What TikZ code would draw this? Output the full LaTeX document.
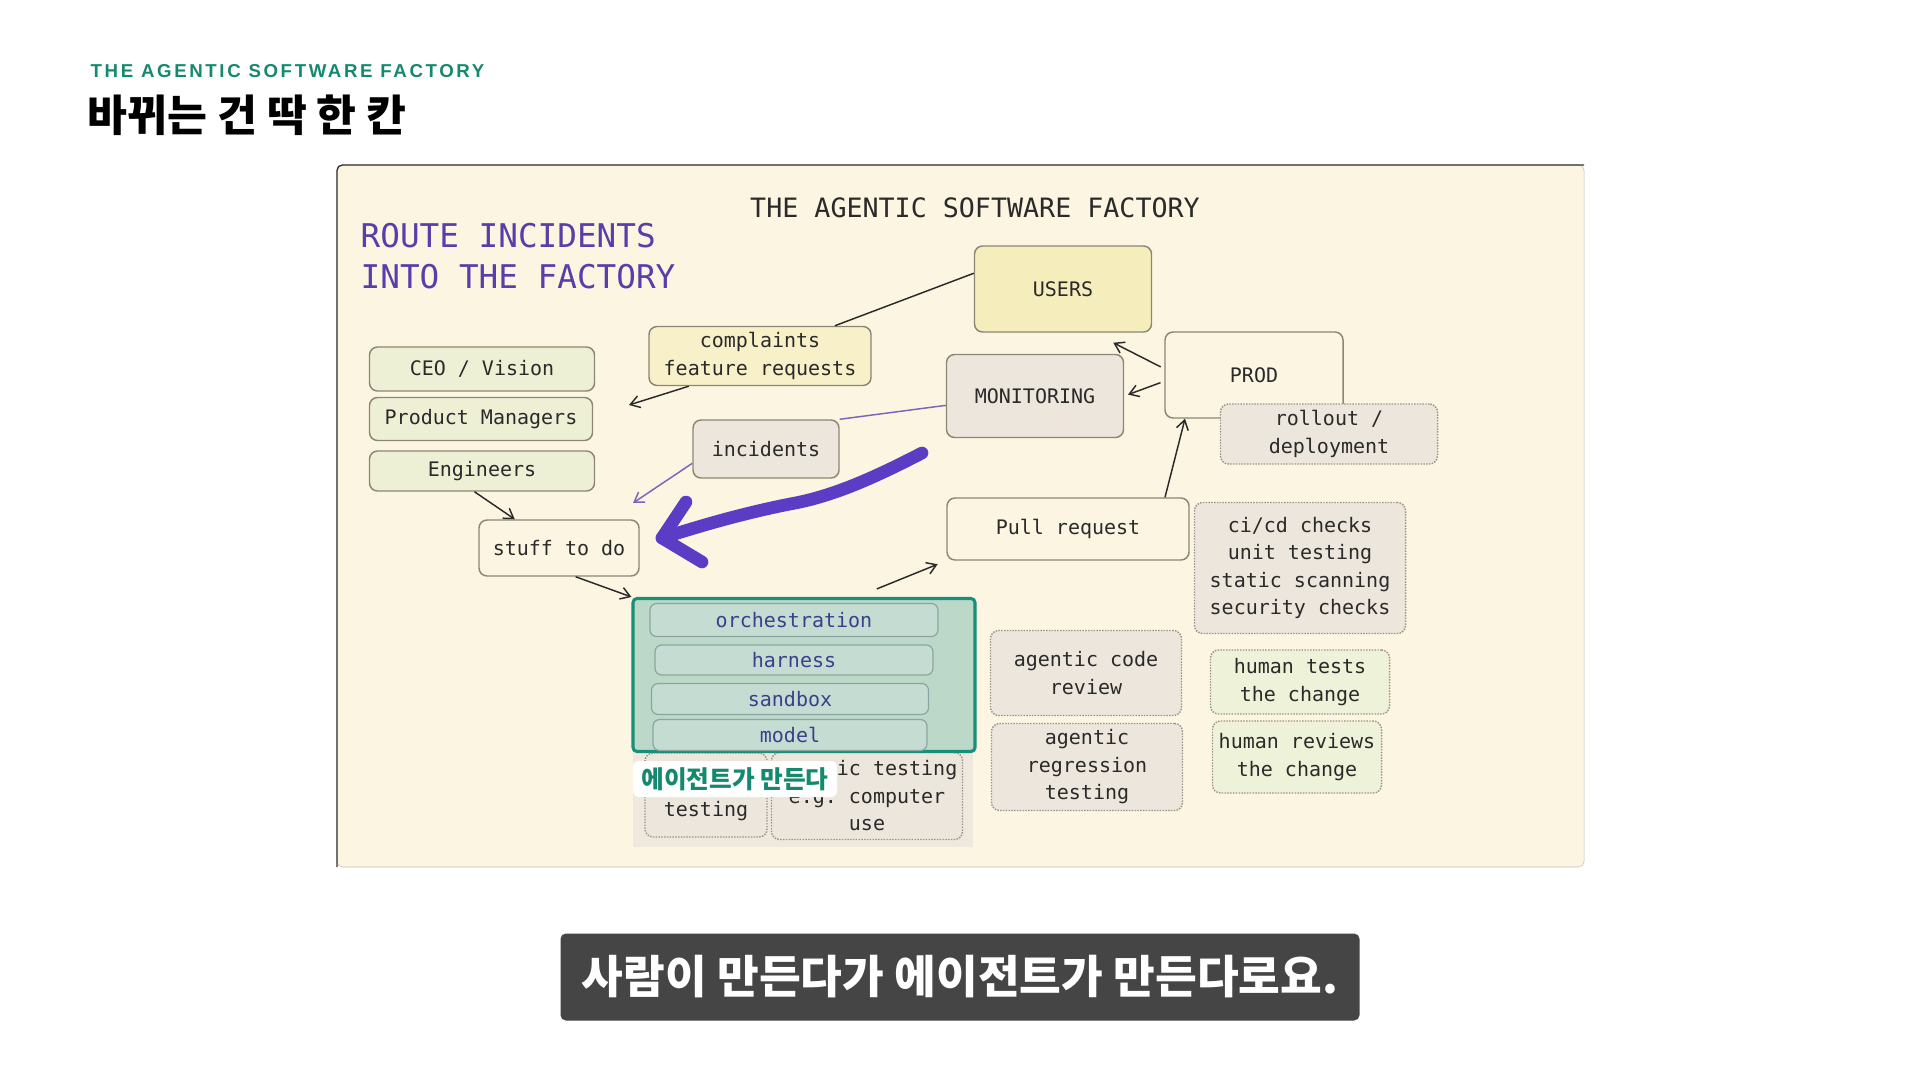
\documentclass[tikz,border=0pt]{standalone}
\usepackage{fontspec}
\setmainfont{Liberation Sans}
\setmonofont{DejaVu Sans Mono}
\newfontfamily\krfont{Noto Sans CJK KR}
\newfontfamily\spacedfont[LetterSpace=14]{Liberation Sans}
\usetikzlibrary{positioning, arrows.meta, calc}

\definecolor{paper}{HTML}{FBF5E1}
\definecolor{edge}{HTML}{8C8674}
\definecolor{ink}{HTML}{2A2A2A}
\definecolor{notegray}{HTML}{ECE6DC}
\definecolor{dotedge}{HTML}{9A9488}
\definecolor{useryellow}{HTML}{F6EDBD}
\definecolor{reqyellow}{HTML}{F8F0C8}
\definecolor{rolegreen}{HTML}{EEF0D6}
\definecolor{humangreen}{HTML}{EEF2D8}
\definecolor{agentfill}{HTML}{BCD8C8}
\definecolor{agentteal}{HTML}{17907A}
\definecolor{layerfill}{HTML}{C4DCD1}
\definecolor{layeredge}{HTML}{8CA5A1}
\definecolor{layerink}{HTML}{3C3F8C}
\definecolor{penpurple}{HTML}{5B3CC4}
\definecolor{routepurple}{HTML}{5A3DA8}
\definecolor{thinpurple}{HTML}{7A66B8}
\definecolor{headteal}{HTML}{15896F}
\definecolor{capgray}{HTML}{454545}

\newcommand\boxfont{\ttfamily\fontsize{15}{20.6}\selectfont}

\begin{document}
\begin{tikzpicture}[x=0.75pt, y=-0.75pt, >={Straight Barb[length=7pt, width=9pt]},
  sz/.style 2 args={minimum width=#1*0.75pt, minimum height=#2*0.75pt},
  box/.style={draw=edge, line width=1.1pt, rounded corners=6pt, inner sep=0pt, align=center, text=ink, font=\boxfont},
  note/.style={box, densely dotted, draw=dotedge, fill=notegray},
  layer/.style={draw=layeredge, fill=layerfill, line width=0.9pt, rounded corners=5pt, inner sep=0pt, text=layerink, font=\boxfont},
  link/.style={->, draw=ink, line width=1.1pt},
  plink/.style={draw=thinpurple, line width=1.1pt}]
\useasboundingbox (0,0) rectangle (1920,1080);
\fill[white] (0,0) rectangle (1920,1080);

% slide header
\node[anchor=west, text=headteal, font=\spacedfont\bfseries\fontsize{14}{16}\selectfont] (kicker) at (86,71) {THE AGENTIC SOFTWARE FACTORY};
\node[anchor=west, text=black, font=\krfont\bfseries\fontsize{32.5}{36}\selectfont] (headline) at (83,115) {바뀌는 건 딱 한 칸};

% the drawing
\draw[draw=black!25, fill=paper, rounded corners=4pt] (337,165) rectangle (1584,867);
\draw[draw=black!80, line width=1pt, rounded corners=4pt] (337,867) -- (337,165) -- (1584,165);
\node[text=ink, font=\ttfamily\fontsize{20}{24}\selectfont] (title) at (975,208) {THE AGENTIC SOFTWARE FACTORY};
\node[anchor=west, align=left, text=routepurple, font=\ttfamily\fontsize{24.5}{31}\selectfont] (route) at (356,256) {ROUTE INCIDENTS\\INTO THE FACTORY};

% top row
\node[box, fill=useryellow, sz={177}{86}] (users) at (1063,289) {USERS};
\node[box, fill=reqyellow, sz={222}{59}] (complaints) at (760,356) {complaints\\feature requests};
\node[box, fill=notegray, sz={177}{83}] (monitoring) at (1035,396) {MONITORING};
\node[box, fill=paper, sz={178}{86}] (prod) at (1254,375) {PROD};
\node[note, sz={217}{60}] (rollout) at (1329,434) {rollout /\\deployment};

% people
\node[box, fill=rolegreen, sz={225}{44}] (ceo) at (482,369) {CEO / Vision};
\node[box, fill=rolegreen, sz={223}{43}] (pm) at (481,419) {Product Managers};
\node[box, fill=rolegreen, sz={225}{40}] (eng) at (482,471) {Engineers};
\node[box, fill=notegray, sz={146}{58}] (incidents) at (766,449) {incidents};
\node[box, fill=paper, sz={160}{56}] (stuff) at (559,548) {stuff to do};
\node[box, fill=paper, sz={242}{62}] (pr) at (1068,529) {Pull request};
\node[note, sz={211}{131}] (checks) at (1300,568) {ci/cd checks\\unit testing\\static scanning\\security checks};

% boxes under the agent
\fill[notegray!85!paper] (633,740) rectangle (973,847);
\node[note, sz={122}{84}] (manualtest) at (706,795) {\strut\\testing};
\node[note, sz={191}{87}] (computeruse) at (867,796) {\phantom{agent}ic testing\\e.g. computer\\use};

% the agent
\node[draw=agentteal, fill=agentfill, line width=2.3pt, rounded corners=3pt, sz={342}{153}, inner sep=0pt] (agent) at (804,675) {};
\node[layer, sz={288}{33}] (orch) at (794,620) {orchestration};
\node[layer, sz={278}{30}] (harness) at (794,660) {harness};
\node[layer, sz={277}{31}] (sandbox) at (790,699) {sandbox};
\node[layer, sz={274}{31}] (model) at (790,735) {model};
\node[fill=white, rounded corners=4pt, sz={204}{36}, inner sep=0pt, text=headteal, font=\krfont\bfseries\fontsize{18.5}{20}\selectfont] (agentmade) at (735,779) {에이전트가 만든다};

% review boxes
\node[note, sz={191}{85}] (codereview) at (1086,673) {agentic code\\review};
\node[note, sz={191}{87}] (regression) at (1087,767) {agentic\\regression\\testing};
\node[note, fill=humangreen, sz={179}{64}] (humantests) at (1300,682) {human tests\\the change};
\node[note, fill=humangreen, sz={169}{72}] (humanreviews) at (1297,757) {human reviews\\the change};

% connectors
\coordinate (inbox) at (629,405);
\coordinate (intake) at (633,503);
\draw[draw=ink, line width=1.1pt] (users.170) -- (complaints.22);
\draw[link] (complaints.203) -- (inbox);
\draw[plink] (monitoring.186) -- (incidents.north east);
\draw[plink, ->] (incidents.191) -- (intake);
\draw[link] (eng.250) -- (stuff.147);
\draw[link] (stuff.300) -- (agent.north west);
\draw[link, shorten <=16pt, shorten >=7pt] ($(agent.north)+(53,0)$) -- (pr.south west);
\draw[link] ($(pr.north)+(97,0)$) -- ($(prod.south)+(-69,0)$);
\draw[link, shorten <=3pt] (prod.176) -- ($(users.south east)+(-39,10)$);
\draw[link, shorten <=3pt, shorten >=3pt] (prod.184) -- (monitoring.east);

% hand drawn marker arrow
\draw[penpurple, line width=9.5pt, line cap=round, line join=round]
  (922,453) .. controls (870,480) and (830,497) .. (790,504) .. controls (740,514) and (700,526) .. (662,538);
\draw[penpurple, line width=9.5pt, line cap=round, line join=round] (686,502) -- (662,538) -- (702,562);

% subtitle
\node[fill=capgray, rounded corners=4pt, sz={799}{87}, inner sep=0pt, text=white, font=\krfont\bfseries\fontsize{34}{38}\selectfont] (caption) at (960,977) {사람이 만든다가 에이전트가 만든다로요.};
\end{tikzpicture}
\end{document}
